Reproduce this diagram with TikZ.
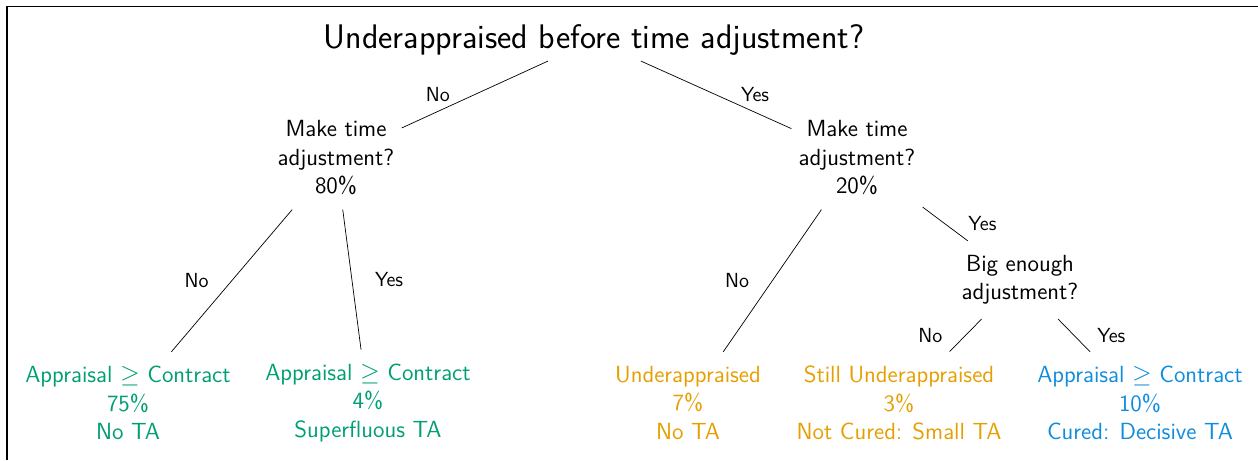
\documentclass[tikz,border=0pt]{standalone}
\usepackage{amssymb}
\usetikzlibrary{positioning}
\definecolor{okgreen}{RGB}{0,158,115}
\definecolor{okorange}{RGB}{230,159,0}
\definecolor{okblue}{RGB}{16,140,220}
\renewcommand{\familydefault}{\sfdefault}
\tikzset{
  question/.style={align=center, inner xsep=4pt, inner ysep=8pt,
    font=\fontsize{13.3}{16.2}\selectfont},
  leaf/.style={question},
  ans/.style={font=\fontsize{11.6}{13}\selectfont, inner sep=2pt},
}
\begin{document}
\begin{tikzpicture}[x=0.02cm, y=-0.02cm]
      \useasboundingbox (0,0) rectangle (1258,460);
      \draw[line width=0.8pt] (1258,6.5) -- (7,6.5) -- (7,460);
      \node[inner sep=3pt, font=\fontsize{19.4}{23}\selectfont] (top) at (594,40)
        {Underappraised before time adjustment?};
      \node[question] (no) at (336,158) {Make time\\adjustment?\\80\%};
      \node[question] (yes) at (857,158) {Make time\\adjustment?\\20\%};
      \node[question] (big) at (1020,280) {Big enough\\adjustment?};
      \node[leaf, text=okgreen] (nota) at (128,403)
        {Appraisal $\geq$ Contract\\75\%\\No TA};
      \node[leaf, text=okgreen] (super) at (368,403)
        {Appraisal $\geq$ Contract\\4\%\\Superfluous TA};
      \node[leaf, text=okorange] (under) at (688,403)
        {Underappraised\\7\%\\No TA};
      \node[leaf, text=okorange] (small) at (899,403)
        {Still Underappraised\\3\%\\Not Cured: Small TA};
      \node[leaf, text=okblue] (cured) at (1140,403)
        {Appraisal $\geq$ Contract\\10\%\\Cured: Decisive TA};
      \begin{scope}[-]
        \draw (top) -- node[ans, left=12pt] (l1) {No} (no);
        \draw (top) -- node[ans, right=12pt] (l2) {Yes} (yes);
        \draw (no) -- node[ans, left=11pt] (l3) {No} (nota);
        \draw (no) -- node[ans, right=11pt] (l4) {Yes} (super);
        \draw (yes) -- node[ans, left=11pt] (l5) {No} (under);
        \draw (yes) -- node[ans, right=11pt] (l6) {Yes} (big);
        \draw (big) -- node[ans, left=11pt] (l7) {No} (small);
        \draw (big) -- node[ans, right=11pt] (l8) {Yes} (cured);
      \end{scope}
    \end{tikzpicture}
\end{document}
